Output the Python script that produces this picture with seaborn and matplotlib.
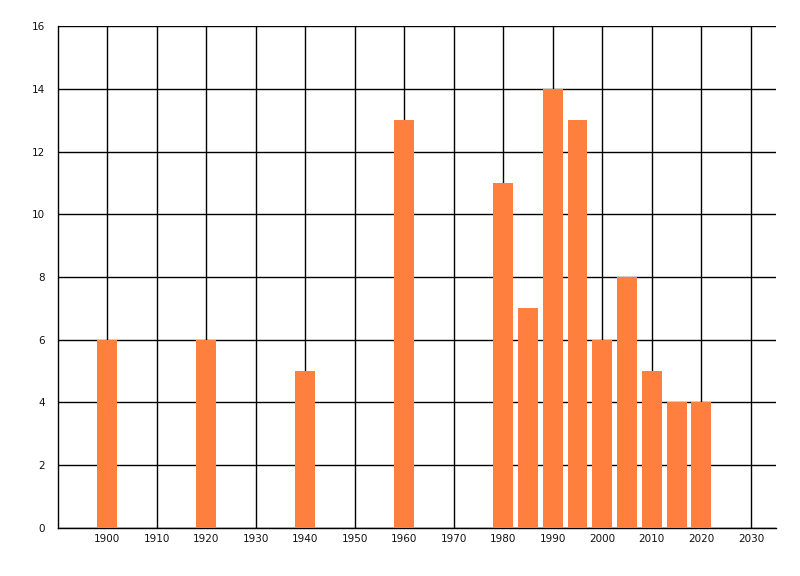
import matplotlib
matplotlib.use('Agg')
import matplotlib.pyplot as plt
import seaborn as sns

years = [1900, 1920, 1940, 1960, 1980, 1985, 1990, 1995, 2000, 2005, 2010, 2015, 2020]
counts = [6, 6, 5, 13, 11, 7, 14, 13, 6, 8, 5, 4, 4]
x_ticks = list(range(1900, 2031, 10))
y_ticks = list(range(0, 17, 2))

sns.set_style('white')
plt.rcParams['font.family'] = ['DejaVu Sans']

fig = plt.figure(figsize=(8, 5.76), dpi=100)
ax = fig.add_axes([0.0719, 0.0842, 0.8977, 0.8698])

sns.barplot(x=years, y=counts, native_scale=True, width=0.8, color='#FF7F3F',
            saturation=1, linewidth=0, edgecolor='none', ax=ax, zorder=3)

ax.set_xlim(1890, 2035)
ax.set_ylim(0, 16)
ax.set_xticks(x_ticks)
ax.set_yticks(y_ticks)
ax.set_xticklabels([str(t) for t in x_ticks], fontsize=7.5)
ax.set_yticklabels([str(t) for t in y_ticks], fontsize=7.5)
ax.grid(True, color='black', linewidth=1, zorder=0)
ax.set_axisbelow(True)
ax.tick_params(axis='y', length=7, width=1, color='black', pad=2, labelcolor='#111111')
ax.tick_params(axis='x', length=2, width=1, color='black', pad=3, labelcolor='#111111')

for s in ['top', 'right']:
    ax.spines[s].set_visible(False)
for s in ['left', 'bottom']:
    ax.spines[s].set_color('black')
    ax.spines[s].set_linewidth(1)

fig.savefig('out.png', dpi=100)
